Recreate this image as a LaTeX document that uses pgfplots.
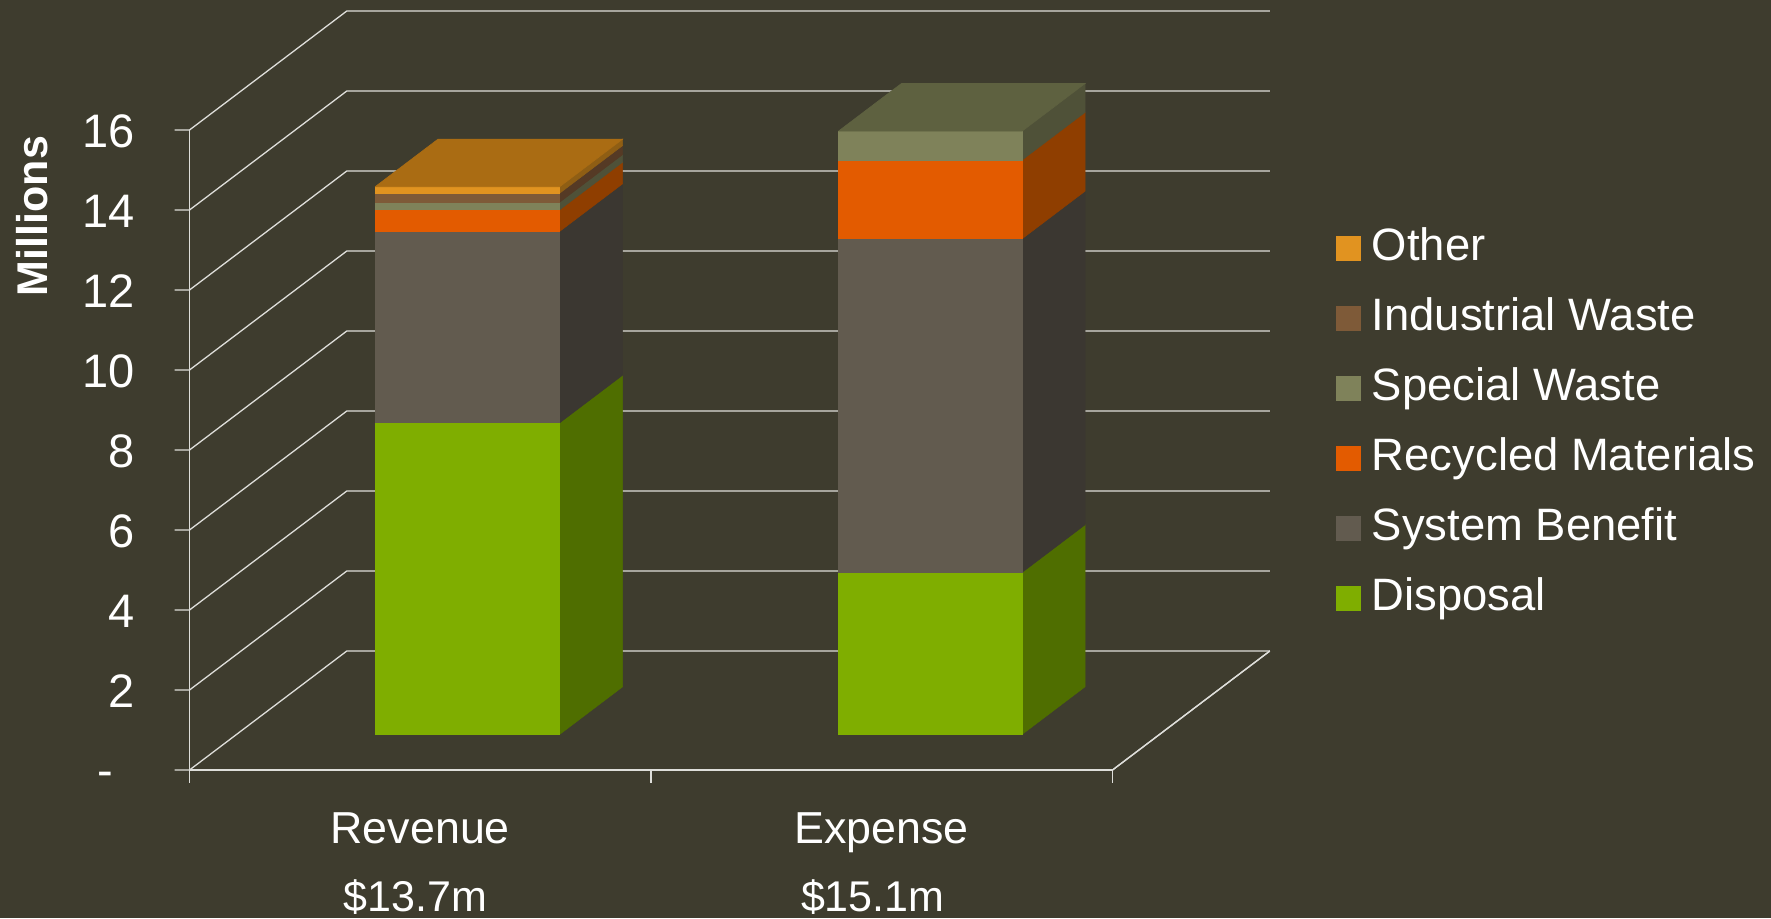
\documentclass[border=0pt]{standalone}
\usepackage{fontspec}
\setmainfont{Liberation Sans}
\usepackage{pgfplots}
\pgfplotsset{compat=1.18}
\definecolor{bg}{HTML}{3E3C2E}
\definecolor{gridc}{HTML}{DEDEDA}
\definecolor{dispF}{HTML}{7FAE00}\definecolor{dispS}{HTML}{4F6E00}
\definecolor{sysF}{HTML}{625B4F}\definecolor{sysS}{HTML}{3B3731}
\definecolor{recF}{HTML}{E35B00}\definecolor{recS}{HTML}{8F3E00}
\definecolor{speF}{HTML}{7F825A}\definecolor{speS}{HTML}{4F5138}\definecolor{speT}{HTML}{5E6140}
\definecolor{indF}{HTML}{7E5A38}\definecolor{indS}{HTML}{553A25}
\definecolor{othF}{HTML}{E19320}\definecolor{othS}{HTML}{8F5E14}\definecolor{othT}{HTML}{AA6C13}
% #1 left x, #2 right x, #3 lower value, #4 upper value, #5 front colour, #6 side colour
\newcommand{\seg}[6]{%
  \addplot3[fill=#6,draw=#6,line width=0.3pt,forget plot] coordinates {(#2,0.3,#3) (#2,0.7,#3) (#2,0.7,#4) (#2,0.3,#4) (#2,0.3,#3)};
  \addplot3[fill=#5,draw=#5,line width=0.3pt,forget plot] coordinates {(#1,0.3,#3) (#2,0.3,#3) (#2,0.3,#4) (#1,0.3,#4) (#1,0.3,#3)};
}
% #1 left x, #2 right x, #3 value, #4 colour
\newcommand{\tops}[4]{%
  \addplot3[fill=#4,draw=#4,line width=0.3pt,forget plot] coordinates {(#1,0.3,#3) (#2,0.3,#3) (#2,0.7,#3) (#1,0.7,#3) (#1,0.3,#3)};
}
% #1 value: wall line with its tick
\newcommand{\wall}[1]{%
  \addplot3[gridc,line width=0.65pt,forget plot] coordinates {(-0.0325,0,#1) (0,0,#1) (0,1,#1) (2,1,#1)};
}
\newcommand{\xt}[1]{%
  \addplot3[gridc,line width=0.65pt,forget plot] coordinates {(#1,0,0) (#1,0,-0.33)};
}
\newcommand{\vallab}[1]{{\fontsize{21.5}{25}\selectfont #1}}
\begin{document}
\begin{tikzpicture}
\useasboundingbox (0,0) rectangle (885.5pt,459pt);
\fill[bg] (0,0) rectangle (885.5pt,459pt);
\begin{axis}[
  at={(94.75pt,74pt)},anchor=origin,
  x={(230.75pt,0pt)},y={(78.65pt,59.5pt)},z={(0pt,20pt)},
  xmin=0,xmax=2,ymin=0,ymax=1,zmin=0,zmax=16,
  clip=false,no markers,
  axis lines=left,
  axis line style={-,draw=gridc,line width=0.65pt},
  x axis line style={-,line width=1.1pt},
  xtick={0.5,1.5},
  xticklabels={Revenue\\[9pt]\hspace*{-5pt}\vallab{\$13.7m},Expense\\[9pt]\hspace*{-9pt}\vallab{\$15.1m}},
  ytick=\empty,
  ztick={0,2,4,6,8,10,12,14,16},
  zticklabels={\raisebox{-7.5pt}[0pt][0pt]{-}\rule{11pt}{0pt},2,4,6,8,10,12,14,16},
  major tick length=0pt,
  tick style={draw=none},
  every tick label/.append style={text=white},
  font=\fontsize{21.5}{25}\selectfont,
  ticklabel style={font=\fontsize{22.4}{25}\selectfont},
  xticklabel style={anchor=north,align=center,yshift=-18pt,xshift=0pt},
  zticklabel style={anchor=east,xshift=-23.7pt,yshift=-0.5pt,font=\fontsize{23.5}{25}\selectfont},
  legend image code/.code={\fill[#1] (0pt,-6.25pt) rectangle (12.5pt,6.25pt); \path (15.8pt,0pt);},
  legend cell align=left,
  legend style={at={(axis cs:2.484,0,13.70)},anchor=north west,draw=none,fill=none,text=white,
    font=\fontsize{22.7}{25}\selectfont,row sep=9.05pt,inner sep=0pt,
    nodes={text height=17pt,text depth=5pt}},
]
\addlegendimage{fill=othF,draw=none}\addlegendentry{Other}
\addlegendimage{fill=indF,draw=none}\addlegendentry{Industrial Waste}
\addlegendimage{fill=speF,draw=none}\addlegendentry{Special Waste}
\addlegendimage{fill=recF,draw=none}\addlegendentry{Recycled Materials}
\addlegendimage{fill=sysF,draw=none}\addlegendentry{System Benefit}
\addlegendimage{fill=dispF,draw=none}\addlegendentry{Disposal}
% walls and floor
\wall{0}\wall{2}\wall{4}\wall{6}\wall{8}\wall{10}\wall{12}\wall{14}\wall{16}
\addplot3[gridc,line width=0.65pt,forget plot] coordinates {(2,0,0) (2,1,0)};
\xt{0}\xt{1}\xt{2}
% Revenue: Disposal 7.79, System Benefit 4.785, Recycled 0.54, Special 0.19, Industrial 0.225, Other 0.16
\seg{0.3}{0.7}{0}{7.79}{dispF}{dispS}
\seg{0.3}{0.7}{7.79}{12.575}{sysF}{sysS}
\seg{0.3}{0.7}{12.575}{13.115}{recF}{recS}
\seg{0.3}{0.7}{13.115}{13.305}{speF}{speS}
\seg{0.3}{0.7}{13.305}{13.53}{indF}{indS}
\seg{0.3}{0.7}{13.53}{13.69}{othF}{othS}
\tops{0.3}{0.7}{13.69}{othT}
% Expense: Disposal 4.05, System Benefit 8.34, Recycled 1.97, Special 0.72
\seg{1.304}{1.702}{0}{4.05}{dispF}{dispS}
\seg{1.304}{1.702}{4.05}{12.39}{sysF}{sysS}
\seg{1.304}{1.702}{12.39}{14.36}{recF}{recS}
\seg{1.304}{1.702}{14.36}{15.08}{speF}{speS}
\tops{1.304}{1.702}{15.08}{speT}
\node[rotate=90,text=white,font=\fontsize{21.5}{25}\selectfont\bfseries] at (axis cs:-0.34,0,13.85) {Millions};
\end{axis}
\end{tikzpicture}
\end{document}
